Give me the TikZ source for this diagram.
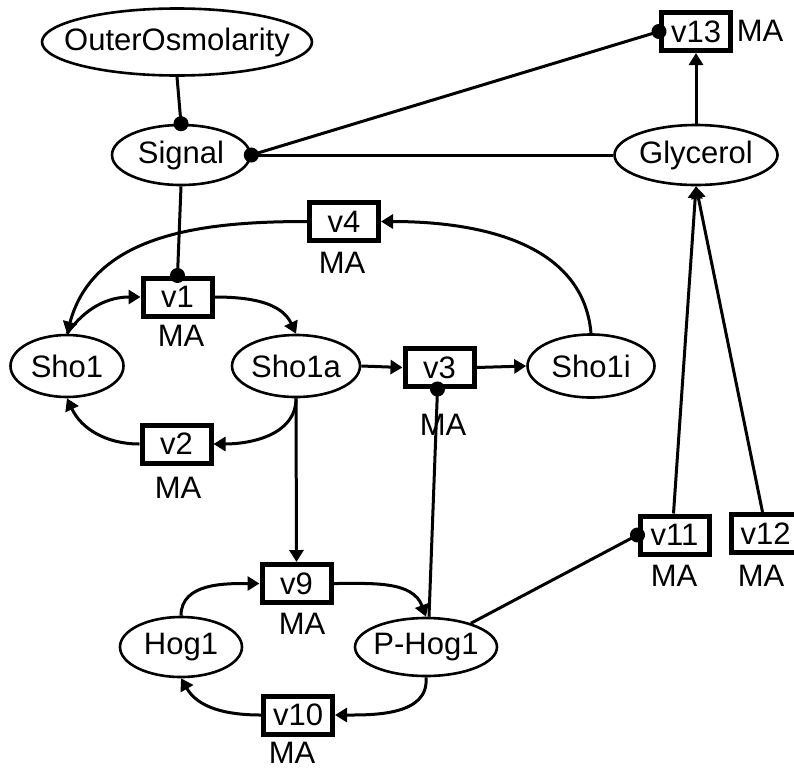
\documentclass[tikz,border=0pt]{standalone}
\usepackage{fontspec}
\setmainfont{Liberation Sans}
\usetikzlibrary{arrows.meta,shapes.geometric}

% species labels take no width, so the ellipse size is set by minimum width/height
\newcommand{\splabel}[1]{\makebox[0pt]{#1}}

\tikzset{
  species/.style={ellipse, draw, line width=2.6pt, inner sep=0pt},
  reaction/.style={rectangle, draw, line width=5pt, minimum width=69pt, minimum height=38pt, inner sep=0pt},
  law/.style={inner sep=0pt},
  conn/.style={line width=3pt},
  arr/.style={conn, -{Triangle[length=12pt,width=14pt]}},
  mod/.style={conn, -{Circle[length=15pt]}, shorten >=-7.5pt},
}

\begin{document}
\begin{tikzpicture}[x=1pt, y=-1pt, font=\fontsize{31}{36}\selectfont]
\useasboundingbox (0,0) rectangle (794,769);

% species
\node[species, minimum width=270pt, minimum height=67pt] (outer) at (177,42) {\splabel{OuterOsmolarity}};
\node[species, minimum width=138pt, minimum height=60pt] (signal) at (181,155) {\splabel{Signal}};
\node[species, minimum width=163pt, minimum height=60pt] (glyc) at (696,155) {\splabel{Glycerol}};
\node[species, minimum width=113pt, minimum height=62pt] (sho1) at (67,366) {\splabel{Sho1}};
\node[species, minimum width=128pt, minimum height=62pt] (sho1a) at (296,366) {\splabel{Sho1a}};
\node[species, minimum width=127pt, minimum height=63pt] (sho1i) at (591,366) {\splabel{Sho1i}};
\node[species, minimum width=122pt, minimum height=60pt] (hog1) at (181,647) {\splabel{Hog1}};
\node[species, minimum width=142pt, minimum height=58pt] (phog1) at (426,647) {\splabel{P-Hog1}};

% reactions
\node[reaction] (v13) at (696,31.5) {v13};
\node[reaction] (v4) at (344,221.5) {v4};
\node[reaction] (v1) at (177.5,297) {v1};
\node[reaction] (v2) at (176.5,444) {v2};
\node[reaction] (v3) at (439.5,367.5) {v3};
\node[reaction] (v9) at (296.5,583.5) {v9};
\node[reaction] (v10) at (298,715) {v10};
\node[reaction] (v11) at (674.5,535) {v11};
\node[reaction] (v12) at (765.5,533.5) {v12};

% kinetic laws
\node[law] (ma13) at (760,31) {MA};
\node[law] (ma4) at (342,263) {MA};
\node[law] (ma1) at (181,336) {MA};
\node[law] (ma2) at (178,488) {MA};
\node[law] (ma3) at (443,425) {MA};
\node[law] (ma9) at (302,624) {MA};
\node[law] (ma10) at (292,753) {MA};
\node[law] (ma11) at (674,576) {MA};
\node[law] (ma12) at (761,576) {MA};

% modifiers
\draw[mod] (outer.south) -- (signal.north);
\draw[mod] (signal.south) -- (v1.north);
\draw[mod] (glyc.west) -- (signal.east);
\draw[mod] (signal.east) -- (v13.west);
\draw[mod] ([xshift=3pt]phog1.north) -- ([xshift=-2pt]v3.south);
\draw[mod] (phog1) -- (v11.west);

% Sho1 cycle
\draw[arr] (sho1.north) to[out=55,in=180] (v1.west);
\draw[arr] (v1.east) to[out=0,in=115] (sho1a.north);
\draw[arr] (sho1a.east) -- (v3.west);
\draw[arr] (v3.east) -- (sho1i.west);
\draw[arr] (sho1i.north) to[out=95,in=0] (v4.east);
\draw[arr] (v4.west) to[out=180,in=75] (sho1.north);
\draw[arr] (sho1a.south) to[out=-90,in=0] (v2.east);
\draw[arr] (v2.west) to[out=180,in=-65] (sho1.south);

% Hog1 cycle
\draw[arr] (sho1a.south) -- (v9.north);
\draw[arr] (hog1.north) to[out=90,in=180] (v9.west);
\draw[arr] (v9.east) to[out=0,in=110] (phog1.north);
\draw[arr] (phog1.south) to[out=-85,in=0] (v10.east);
\draw[arr] (v10.west) to[out=180,in=-60] (hog1.south);

% glycerol production and export
\draw[arr] ([xshift=-1pt]v11.north) -- (glyc.south);
\draw[arr] ([xshift=-3pt]v12.north) -- (glyc.south);
\draw[arr] (glyc.north) -- (v13.south);
\end{tikzpicture}
\end{document}
